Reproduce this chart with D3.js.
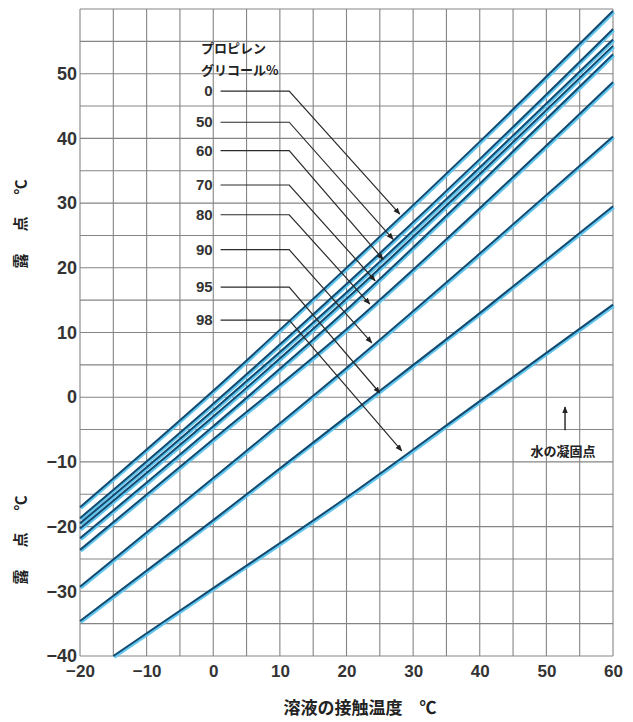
<!DOCTYPE html>
<html>
<head>
<meta charset="utf-8">
<script src="https://cdn.jsdelivr.net/npm/d3@7"></script>
<style>
  body { margin: 0; background: #fff; }
  svg { display: block; }
  .tick-label { font-family: "Liberation Sans", Arial, sans-serif; fill: #333; font-weight: bold; }
  .jp { font-family: "Noto Sans CJK JP", sans-serif; fill: #222; }
</style>
</head>
<body>
<div id="chart"></div>
<script>
// 溶液温度 (x) ごとの露点 (y)
var tempX = [-20, 0, 20, 40, 60];
var curve1 = [-17.0, 1.0, 20.0, 39.5, 59.7];
var curve2 = [-18.7, -1.0, 17.5, 36.8, 56.9];
var curve3 = [-19.5, -2.0, 16.2, 35.5, 55.3];
var curve4 = [-20.3, -3.0, 15.2, 34.5, 54.3];
var curve5 = [-21.8, -4.5, 13.5, 33.0, 53.0];
var curve6 = [-23.6, -6.5, 10.5, 29.2, 48.7];
var curve7 = [-29.3, -12.5, 4.5, 22.2, 40.3];
var curve8 = [-34.6, -19.0, -3.0, 13.0, 29.5];
var curve9X = [-15, 0, 20, 40, 60];
var curve9 = [-40, -29.5, -15.5, -0.6, 14.3];

var xTicks = [-20, -10, 0, 10, 20, 30, 40, 50, 60];
var yTicks = [-40, -30, -20, -10, 0, 10, 20, 30, 40, 50];

// 凡例（プロピレングリコール%）と矢印
var concLabels = ["0", "50", "60", "70", "80", "90", "95", "98"];
var labelY = [47.3, 42.5, 38.1, 32.8, 28.2, 22.8, 17.0, 11.9];
var tipX = [28.0, 27.0, 25.5, 24.3, 23.5, 23.8, 25.0, 28.3];
var tipY = [28.3, 24.4, 21.3, 18.0, 14.4, 8.4, 0.65, -8.3];

var width = 633, height = 722;

var svg = d3.select("#chart").append("svg")
    .attr("width", width)
    .attr("height", height);

var x = d3.scaleLinear().domain([-20, 60]).range([80, 613]);
var y = d3.scaleLinear().domain([-40, 60]).range([656, 9]);

var defs = svg.append("defs");
defs.append("marker")
    .attr("id", "arrow")
    .attr("viewBox", "0 0 10 10")
    .attr("refX", 9).attr("refY", 5)
    .attr("markerWidth", 7).attr("markerHeight", 7)
    .attr("markerUnits", "userSpaceOnUse")
    .attr("orient", "auto")
    .append("path")
    .attr("d", "M0,1 L10,5 L0,9 Z")
    .attr("fill", "#222");

// グリッド (5度ごと)
var grid = svg.append("g").attr("class", "grid");
grid.selectAll("line.v")
    .data(d3.range(-20, 61, 5))
    .enter().append("line")
    .attr("x1", d => x(d)).attr("x2", d => x(d))
    .attr("y1", y(60)).attr("y2", y(-40))
    .attr("stroke", "#858585")
    .attr("stroke-width", 1.1);
grid.selectAll("line.h")
    .data(d3.range(-40, 61, 5))
    .enter().append("line")
    .attr("x1", x(-20)).attr("x2", x(60))
    .attr("y1", d => y(d)).attr("y2", d => y(d))
    .attr("stroke", "#858585")
    .attr("stroke-width", 1.1);

// 軸ラベル
svg.append("g")
    .attr("transform", "translate(0," + y(-40) + ")")
    .call(d3.axisBottom(x).tickValues(xTicks).tickSize(0).tickPadding(6)
        .tickFormat(d => d < 0 ? "\u2212" + Math.abs(d) : d))
    .call(g => g.select(".domain").remove())
    .selectAll("text")
    .attr("class", "tick-label")
    .attr("font-size", 17)
    .attr("dy", "0.9em");

svg.append("g")
    .attr("transform", "translate(" + x(-20) + ",0)")
    .call(d3.axisLeft(y).tickValues(yTicks).tickSize(0).tickPadding(3)
        .tickFormat(d => d < 0 ? "\u2212" + Math.abs(d) : d))
    .call(g => g.select(".domain").remove())
    .selectAll("text")
    .attr("class", "tick-label")
    .attr("font-size", 18);

// 曲線
var lineGen = d3.line()
    .x(d => x(d[0]))
    .y(d => y(d[1]))
    .curve(d3.curveMonotoneX);

var curves = [curve1, curve2, curve3, curve4, curve5, curve6, curve7, curve8]
    .map(c => tempX.map((t, i) => [t, c[i]]));
curves.push(curve9X.map((t, i) => [t, curve9[i]]));

var plot = svg.append("g");
plot.selectAll("path.halo")
    .data(curves)
    .enter().append("path")
    .attr("d", lineGen)
    .attr("transform", "translate(0.8,1.2)")
    .attr("fill", "none")
    .attr("stroke", "#62c6ef")
    .attr("stroke-width", 3.2);
plot.selectAll("path.core")
    .data(curves)
    .enter().append("path")
    .attr("d", lineGen)
    .attr("fill", "none")
    .attr("stroke", "#124a70")
    .attr("stroke-width", 2);

// 凡例タイトル
svg.append("text").attr("class", "jp")
    .attr("x", 201).attr("y", 53)
    .attr("font-size", 13).attr("font-weight", "bold")
    .text("プロピレン");
svg.append("text").attr("class", "jp")
    .attr("x", 201).attr("y", 75)
    .attr("font-size", 13).attr("font-weight", "bold")
    .text("グリコール%");

// 濃度ラベルと引出線
var leaders = svg.append("g");
concLabels.forEach(function(lab, i) {
    leaders.append("text")
        .attr("class", "tick-label")
        .attr("x", x(-0.1))
        .attr("y", y(labelY[i]))
        .attr("dy", "0.35em")
        .attr("text-anchor", "end")
        .attr("font-size", 15)
        .text(lab);
    leaders.append("path")
        .attr("d", "M" + x(1.1) + "," + y(labelY[i]) +
                   " L" + x(11.4) + "," + y(labelY[i]) +
                   " L" + x(tipX[i]) + "," + y(tipY[i]))
        .attr("fill", "none")
        .attr("stroke", "#2a2a2a")
        .attr("stroke-width", 1.2)
        .attr("marker-end", "url(#arrow)");
});

// 水の凝固点
svg.append("line")
    .attr("x1", x(52.8)).attr("x2", x(52.8))
    .attr("y1", y(-5.1)).attr("y2", y(-1.5))
    .attr("stroke", "#222")
    .attr("stroke-width", 1.4)
    .attr("marker-end", "url(#arrow)");
svg.append("text").attr("class", "jp")
    .attr("x", x(52.5)).attr("y", y(-8.4))
    .attr("dy", "0.35em")
    .attr("text-anchor", "middle")
    .attr("font-size", 13).attr("font-weight", "bold")
    .text("水の凝固点");

// 軸タイトル
svg.append("text").attr("class", "jp")
    .attr("x", 360).attr("y", 708)
    .attr("dy", "0.35em")
    .attr("text-anchor", "middle")
    .attr("font-size", 17).attr("font-weight", "bold")
    .text("溶液の接触温度　℃");

[213, 529].forEach(function(cy) {
    svg.append("text").attr("class", "jp")
        .attr("transform", "translate(21," + cy + ") rotate(-90)")
        .attr("dy", "0.35em")
        .attr("text-anchor", "middle")
        .attr("font-size", 15).attr("font-weight", "bold")
        .attr("letter-spacing", 22)
        .text("露点℃");
});
</script>
</body>
</html>
